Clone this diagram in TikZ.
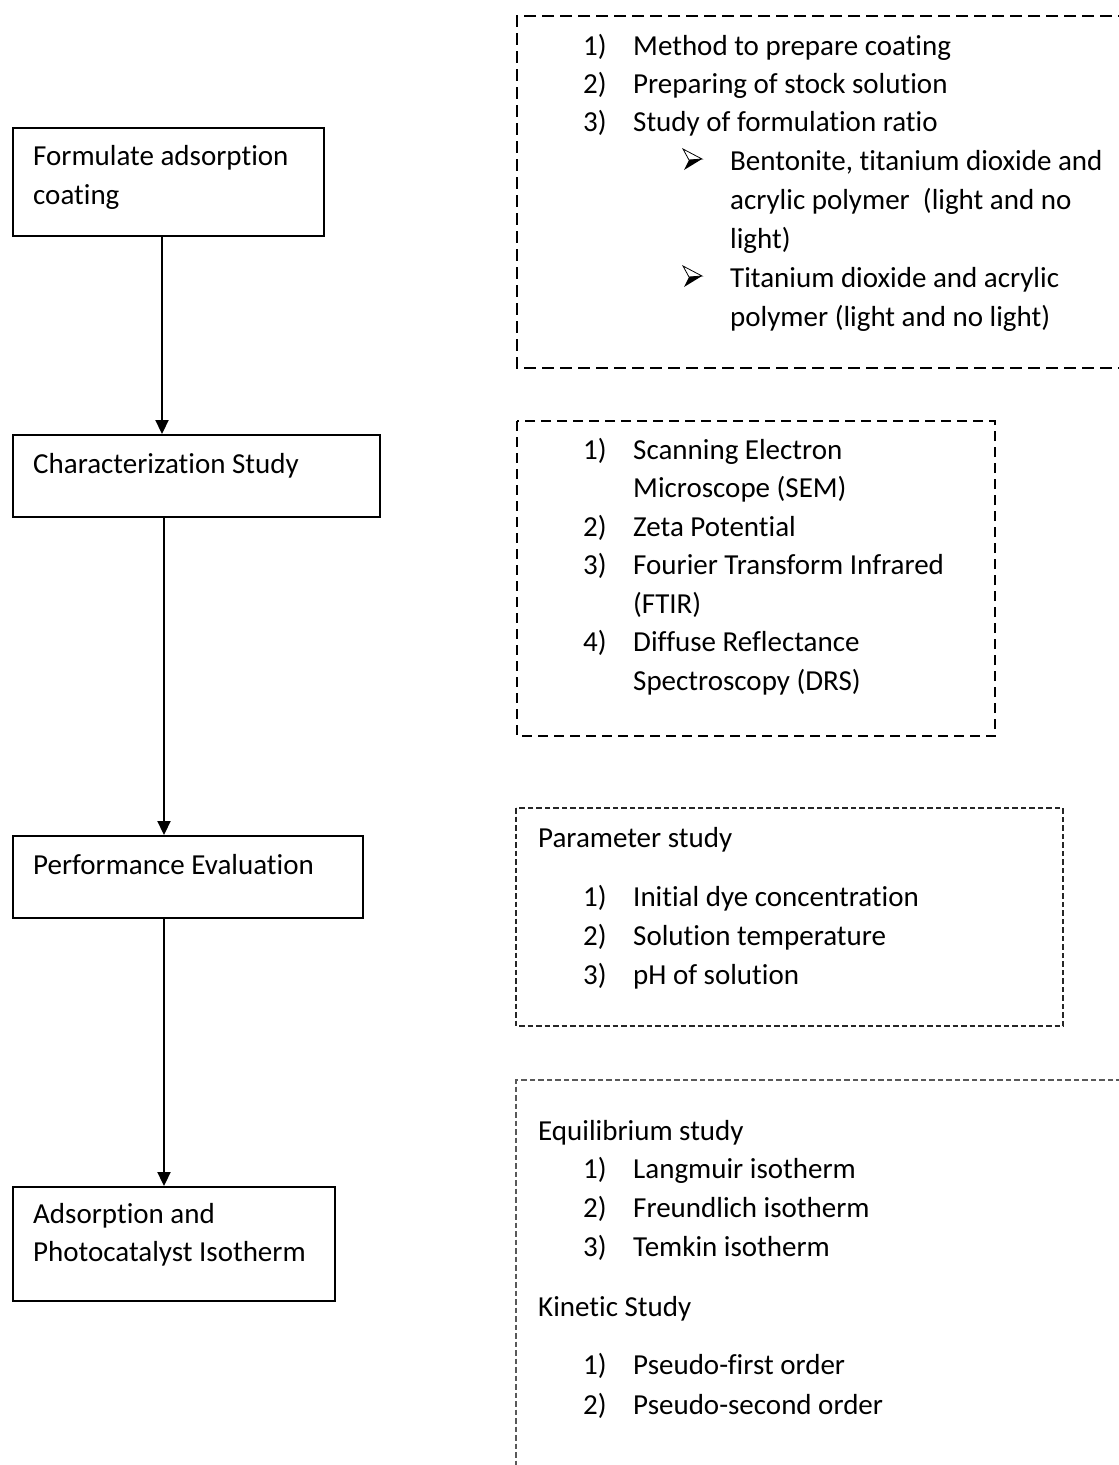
\documentclass[tikz,border=0pt]{standalone}
\usepackage{fontspec}
\setmainfont{Carlito}[Ligatures={NoCommon,NoRare,NoContextual}]
\usetikzlibrary{arrows.meta}
\begin{document}
\begin{tikzpicture}[x=1pt,y=-1pt,
  box/.style={draw=black,line width=1.8pt,anchor=north west,inner sep=0pt},
  txt/.style={anchor=base west,inner sep=0pt,font=\fontsize{29}{35}\selectfont},
  arr/.style={line width=2.2pt,-{Triangle[length=14pt,width=13pt]}},
  dashA/.style={draw=black,line width=1.8pt,dash pattern=on 12pt off 6pt},
  dashB/.style={draw=black,line width=1.8pt,dash pattern=on 10pt off 6pt},
  dashC/.style={draw=black!85,line width=1.2pt,dash pattern=on 5.5pt off 3pt},
  dashD/.style={draw=black!65,line width=1.4pt,dash pattern=on 5.5pt off 3pt},
  arrowbullet/.pic={
    \draw[line width=0.8pt,line join=miter] (0,-10) -- (19,0) -- (6,1) -- cycle;
    \fill (6,1) -- (19,0) -- (1,11) -- cycle;}]
\useasboundingbox (0,0) rectangle (1119,1465);
\fill[white] (0,0) rectangle (1119,1465);

% left process boxes
\node[box,minimum width=311pt,minimum height=108pt] (b1) at (12,127) {};
\node[box,minimum width=367pt,minimum height=82pt] (b2) at (12,434) {};
\node[box,minimum width=350pt,minimum height=82pt] (b3) at (12,835) {};
\node[box,minimum width=322pt,minimum height=114pt] (b4) at (12,1186) {};

\node[txt] (l1a) at (33,165) {Formulate adsorption};
\node[txt] (l1b) at (33,204) {coating};
\node[txt] (l2) at (33,473) {Characterization Study};
\node[txt] (l3) at (33,874) {Performance Evaluation};
\node[txt] (l4a) at (33,1223) {Adsorption and};
\node[txt] (l4b) at (33,1261) {Photocatalyst Isotherm};

\coordinate (xa) at (162,0);
\coordinate (xb) at (164,0);
\draw[arr] (xa |- b1.south) -- (xa |- b2.north);
\draw[arr] (xb |- b2.south) -- (xb |- b3.north);
\draw[arr] (xb |- b3.south) -- (xb |- b4.north);

% dashed boxes
\draw[dashA] (1130,16) -- (517,16) -- (517,368) -- (1130,368);
\draw[dashB] (517,421) rectangle (995,736);
\draw[dashC] (516,808) rectangle (1063,1026);
\draw[dashD] (1130,1080) -- (516,1080) -- (516,1475);

% box 1 text
\node[txt] (n11) at (583,55) {1)};
\node[txt] (t11) at (633,55) {Method to prepare coating};
\node[txt] (n12) at (583,93) {2)};
\node[txt] (t12) at (633,93) {Preparing of stock solution};
\node[txt] (n13) at (583,131) {3)};
\node[txt] (t13) at (633,131) {Study of formulation ratio};
\pic (s1) at (683,159) {arrowbullet};
\node[txt] (t14) at (730,170) {Bentonite, titanium dioxide and};
\node[txt] (t15) at (730,209) {acrylic polymer~ (light and no};
\node[txt] (t16) at (730,248) {light)};
\pic (s2) at (683,276) {arrowbullet};
\node[txt] (t17) at (730,287) {Titanium dioxide and acrylic};
\node[txt] (t18) at (730,326) {polymer (light and no light)};

% box 2 text
\node[txt] (n21) at (583,459) {1)};
\node[txt] (t21) at (633,459) {Scanning Electron};
\node[txt] (t22) at (633,497) {Microscope (SEM)};
\node[txt] (n22) at (583,536) {2)};
\node[txt] (t23) at (633,536) {Zeta Potential};
\node[txt] (n23) at (583,574) {3)};
\node[txt] (t24) at (633,574) {Fourier Transform Infrared};
\node[txt] (t25) at (633,613) {(FTIR)};
\node[txt] (n24) at (583,651) {4)};
\node[txt] (t26) at (633,651) {Diffuse Reflectance};
\node[txt] (t27) at (633,690) {Spectroscopy (DRS)};

% box 3 text
\node[txt] (h3) at (538,847) {Parameter study};
\node[txt] (n31) at (583,906) {1)};
\node[txt] (t31) at (633,906) {Initial dye concentration};
\node[txt] (n32) at (583,945) {2)};
\node[txt] (t32) at (633,945) {Solution temperature};
\node[txt] (n33) at (583,984) {3)};
\node[txt] (t33) at (633,984) {pH of solution};

% box 4 text
\node[txt] (h4) at (538,1140) {Equilibrium study};
\node[txt] (n41) at (583,1178) {1)};
\node[txt] (t41) at (633,1178) {Langmuir isotherm};
\node[txt] (n42) at (583,1217) {2)};
\node[txt] (t42) at (633,1217) {Freundlich isotherm};
\node[txt] (n43) at (583,1256) {3)};
\node[txt] (t43) at (633,1256) {Temkin isotherm};
\node[txt] (h5) at (538,1316) {Kinetic Study};
\node[txt] (n44) at (583,1374) {1)};
\node[txt] (t44) at (633,1374) {Pseudo-first order};
\node[txt] (n45) at (583,1414) {2)};
\node[txt] (t45) at (633,1414) {Pseudo-second order};
\end{tikzpicture}
\end{document}
